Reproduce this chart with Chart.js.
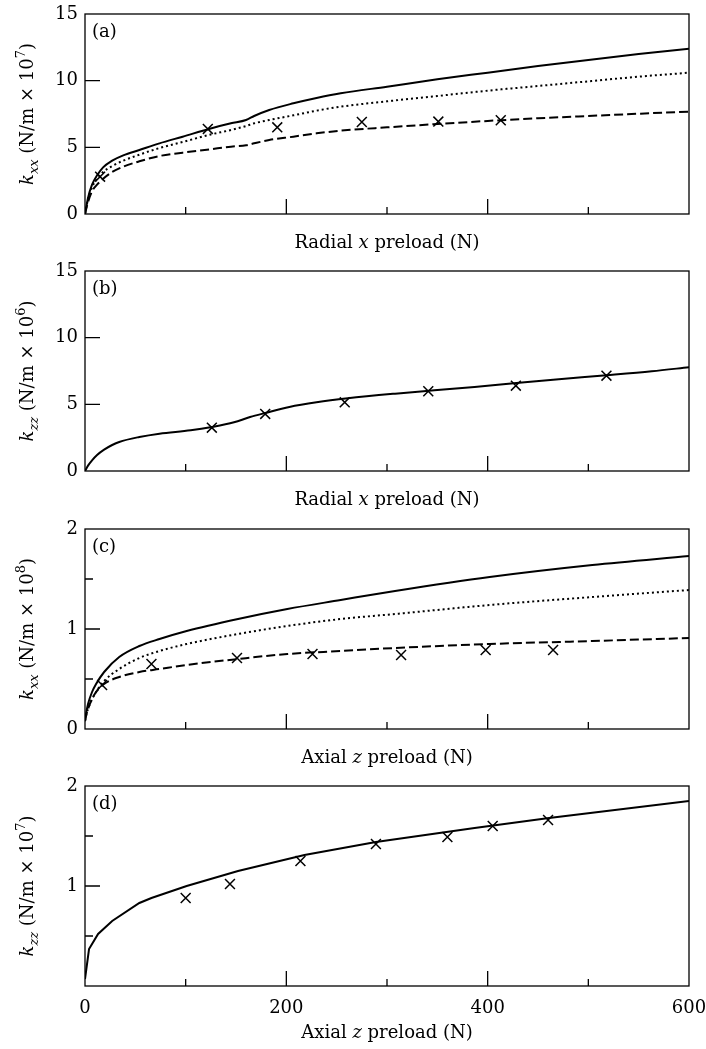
<!DOCTYPE html>
<html>
<head>
<meta charset="utf-8">
<script src="https://cdn.jsdelivr.net/npm/chart.js@4.4.1/dist/chart.umd.min.js"></script>
<style>
  body { margin: 0; background: #fff; }
  #wrap { position: relative; width: 706px; height: 1049px; }
  canvas { position: absolute; left: 0; }
</style>
</head>
<body>
<div id="wrap">
  <canvas id="chartA" width="706" height="257" style="top:0px"></canvas>
  <canvas id="chartB" width="706" height="258" style="top:257px"></canvas>
  <canvas id="chartC" width="706" height="257" style="top:515px"></canvas>
  <canvas id="chartD" width="706" height="277" style="top:772px"></canvas>
</div>
<script>
// (a) radial x preload -> kxx
const aX = [0, 3, 7, 12, 18, 27, 38, 54, 74, 97, 124, 145, 160, 168, 183, 207, 230, 254, 300, 350, 400, 450, 500, 550, 600];
const aSolid = [0, 1.2, 2.2, 2.9, 3.5, 4.0, 4.4, 4.8, 5.3, 5.8, 6.4, 6.8, 7.05, 7.35, 7.8, 8.3, 8.7, 9.05, 9.55, 10.1, 10.6, 11.1, 11.55, 12.0, 12.4];
const aDotted = [0, 1.1, 2.0, 2.65, 3.15, 3.6, 4.0, 4.45, 4.95, 5.4, 5.95, 6.3, 6.6, 6.8, 7.05, 7.4, 7.75, 8.05, 8.45, 8.85, 9.25, 9.6, 9.95, 10.3, 10.6];
const aDashed = [0, 0.9, 1.7, 2.2, 2.65, 3.15, 3.55, 3.95, 4.35, 4.6, 4.85, 5.05, 5.15, 5.3, 5.55, 5.8, 6.05, 6.25, 6.5, 6.75, 6.98, 7.18, 7.35, 7.52, 7.68];
const aMarkX = [15, 122, 191, 275, 351, 413];
const aMarkY = [2.8, 6.38, 6.5, 6.9, 6.93, 7.03];

// (b) radial x preload -> kzz
const bX = [0, 3, 7, 12, 19, 27, 34, 54, 74, 105, 126, 148, 164, 179, 203, 230, 261, 308, 347, 387, 426, 465, 518, 563, 600];
const bSolid = [0, 0.4, 0.8, 1.2, 1.6, 1.95, 2.18, 2.55, 2.8, 3.05, 3.3, 3.65, 4.05, 4.35, 4.8, 5.15, 5.45, 5.8, 6.05, 6.3, 6.58, 6.85, 7.18, 7.48, 7.78];
const bMarkX = [126, 179, 258, 341, 428, 518];
const bMarkY = [3.25, 4.28, 5.15, 5.98, 6.4, 7.15];

// (c) axial z preload -> kxx
const cX = [0, 1, 3, 7, 11, 19, 34, 54, 74, 101, 152, 201, 254, 308, 402, 504, 600];
const cSolid = [0.08, 0.15, 0.25, 0.37, 0.45, 0.57, 0.72, 0.83, 0.9, 0.98, 1.1, 1.2, 1.29, 1.38, 1.52, 1.64, 1.73];
const cDotted = [0.08, 0.13, 0.2, 0.3, 0.37, 0.48, 0.6, 0.71, 0.78, 0.85, 0.95, 1.03, 1.1, 1.15, 1.24, 1.32, 1.39];
const cDashed = [0.08, 0.13, 0.2, 0.3, 0.37, 0.45, 0.52, 0.57, 0.6, 0.64, 0.7, 0.75, 0.78, 0.81, 0.85, 0.88, 0.91];
const cMarkX = [17, 66, 151, 226, 314, 398, 465];
const cMarkY = [0.44, 0.65, 0.71, 0.75, 0.74, 0.79, 0.79];

// (d) axial z preload -> kzz
const dX = [0, 4, 13, 27, 54, 66, 101, 152, 218, 289, 387, 461, 600];
const dSolid = [0.07, 0.37, 0.52, 0.65, 0.83, 0.88, 1.0, 1.15, 1.31, 1.44, 1.58, 1.68, 1.85];
const dMarkX = [100, 144, 214, 289, 360, 405, 460];
const dMarkY = [0.88, 1.02, 1.25, 1.42, 1.49, 1.6, 1.66];

const xTickLabels = [0, 200, 400, 600];

const FONT = "'DejaVu Serif', serif";

function pts(xs, ys) {
  return xs.map((x, i) => ({ x: x, y: ys[i] }));
}

function lineSet(xs, ys, dash, smooth) {
  return {
    data: pts(xs, ys),
    showLine: true,
    borderColor: "#000",
    borderWidth: 2,
    borderDash: dash,
    pointRadius: 0,
    fill: false,
    cubicInterpolationMode: smooth ? "monotone" : "default",
    tension: 0,
  };
}

function markSet(xs, ys) {
  return {
    data: pts(xs, ys),
    showLine: false,
    pointStyle: "crossRot",
    pointRadius: 7,
    borderColor: "#000",
    borderWidth: 1.5,
  };
}

function runFont(r) {
  const small = r.sub || r.sup;
  return (r.it ? "italic " : "") + (small ? 13 : 18) + "px " + FONT;
}

function drawRuns(ctx, runs, x, y) {
  let total = 0;
  runs.forEach((r) => {
    ctx.font = runFont(r);
    r.w = ctx.measureText(r.t).width;
    total += r.w;
  });
  let cx = x - total / 2;
  runs.forEach((r) => {
    ctx.font = runFont(r);
    const dy = r.sub ? 5 : r.sup ? -8 : 0;
    ctx.fillText(r.t, cx, y + dy);
    cx += r.w;
  });
}

// box, inward ticks, panel letter and axis titles
const framePlugin = {
  id: "frame",
  afterDraw(chart, args, o) {
    const { ctx, chartArea: a, scales } = chart;
    const x = scales.x;
    const y = scales.y;
    ctx.save();
    ctx.strokeStyle = "#000";
    ctx.lineWidth = 1.3;
    ctx.strokeRect(a.left, a.top, a.right - a.left, a.bottom - a.top);
    ctx.beginPath();
    x.ticks.forEach((t) => {
      if (t.value <= x.min || t.value >= x.max) return;
      const px = x.getPixelForValue(t.value);
      const len = t.value % o.xMajor === 0 ? 15 : 7;
      ctx.moveTo(px, a.bottom);
      ctx.lineTo(px, a.bottom - len);
    });
    y.ticks.forEach((t) => {
      if (t.value <= y.min || t.value >= y.max) return;
      const py = y.getPixelForValue(t.value);
      const len = t.value % o.yMajor === 0 ? 15 : 8;
      ctx.moveTo(a.left, py);
      ctx.lineTo(a.left + len, py);
    });
    ctx.stroke();

    ctx.fillStyle = "#000";
    ctx.textAlign = "left";
    ctx.textBaseline = "alphabetic";
    ctx.font = "18px " + FONT;
    ctx.fillText(o.letter, a.left + 7, a.top + 23);

    drawRuns(ctx, o.xTitle, (a.left + a.right) / 2, a.bottom + o.xGap);

    ctx.translate(33, (a.top + a.bottom) / 2);
    ctx.rotate(-Math.PI / 2);
    drawRuns(ctx, o.yTitle, 0, 0);
    ctx.restore();
  },
};

function makeChart(id, datasets, o) {
  const canvas = document.getElementById(id);
  const h = canvas.height;
  return new Chart(canvas.getContext("2d"), {
    type: "scatter",
    data: { datasets: datasets },
    options: {
      responsive: false,
      animation: false,
      devicePixelRatio: 1,
      layout: { padding: { top: 14, right: 17, bottom: 0, left: 0 } },
      scales: {
        x: {
          type: "linear",
          min: 0,
          max: 600,
          grid: { display: false, drawTicks: false },
          border: { display: false },
          ticks: {
            stepSize: 100,
            autoSkip: false,
            maxRotation: 0,
            display: o.showX,
            padding: 12,
            color: "#000",
            font: { family: FONT, size: 18 },
            callback: function (value) {
              return xTickLabels.includes(value) ? String(value) : "";
            },
          },
          afterFit: function (scale) {
            scale.height = h - 214;
            scale.paddingLeft = 0;
            scale.paddingRight = 0;
          },
        },
        y: {
          type: "linear",
          min: 0,
          max: o.yMax,
          grid: { display: false, drawTicks: false },
          border: { display: false },
          ticks: {
            stepSize: o.yStep,
            autoSkip: false,
            padding: 7,
            color: "#000",
            font: { family: FONT, size: 18 },
            callback: function (value) {
              return o.yLabels.includes(value) ? String(value) : "";
            },
          },
          afterFit: function (scale) {
            scale.width = 85;
            scale.paddingTop = 0;
            scale.paddingBottom = 0;
          },
        },
      },
      plugins: {
        legend: { display: false },
        tooltip: { enabled: false },
        frame: o,
      },
    },
    plugins: [framePlugin],
  });
}

const radialTitle = [{ t: "Radial " }, { t: "x", it: true }, { t: " preload (N)" }];
const axialTitle = [{ t: "Axial " }, { t: "z", it: true }, { t: " preload (N)" }];

makeChart(
  "chartA",
  [
    lineSet(aX, aSolid, [], true),
    lineSet(aX, aDotted, [2, 3], true),
    lineSet(aX, aDashed, [9, 4], true),
    markSet(aMarkX, aMarkY),
  ],
  {
    letter: "(a)",
    yMax: 15,
    yStep: 5,
    yMajor: 5,
    xMajor: 200,
    yLabels: [0, 5, 10, 15],
    showX: false,
    xGap: 34,
    xTitle: radialTitle,
    yTitle: [{ t: "k", it: true }, { t: "xx", it: true, sub: true }, { t: " (N/m \u00d7 10" }, { t: "7", sup: true }, { t: ")" }],
  }
);

makeChart(
  "chartB",
  [lineSet(bX, bSolid, [], true), markSet(bMarkX, bMarkY)],
  {
    letter: "(b)",
    yMax: 15,
    yStep: 5,
    yMajor: 5,
    xMajor: 200,
    yLabels: [0, 5, 10, 15],
    showX: false,
    xGap: 34,
    xTitle: radialTitle,
    yTitle: [{ t: "k", it: true }, { t: "zz", it: true, sub: true }, { t: " (N/m \u00d7 10" }, { t: "6", sup: true }, { t: ")" }],
  }
);

makeChart(
  "chartC",
  [
    lineSet(cX, cSolid, [], true),
    lineSet(cX, cDotted, [2, 3], true),
    lineSet(cX, cDashed, [9, 4], true),
    markSet(cMarkX, cMarkY),
  ],
  {
    letter: "(c)",
    yMax: 2,
    yStep: 0.5,
    yMajor: 1,
    xMajor: 200,
    yLabels: [0, 1, 2],
    showX: false,
    xGap: 34,
    xTitle: axialTitle,
    yTitle: [{ t: "k", it: true }, { t: "xx", it: true, sub: true }, { t: " (N/m \u00d7 10" }, { t: "8", sup: true }, { t: ")" }],
  }
);

makeChart(
  "chartD",
  [lineSet(dX, dSolid, [], false), markSet(dMarkX, dMarkY)],
  {
    letter: "(d)",
    yMax: 2,
    yStep: 0.5,
    yMajor: 1,
    xMajor: 200,
    yLabels: [1, 2],
    showX: true,
    xGap: 52,
    xTitle: axialTitle,
    yTitle: [{ t: "k", it: true }, { t: "zz", it: true, sub: true }, { t: " (N/m \u00d7 10" }, { t: "7", sup: true }, { t: ")" }],
  }
);
</script>
</body>
</html>
